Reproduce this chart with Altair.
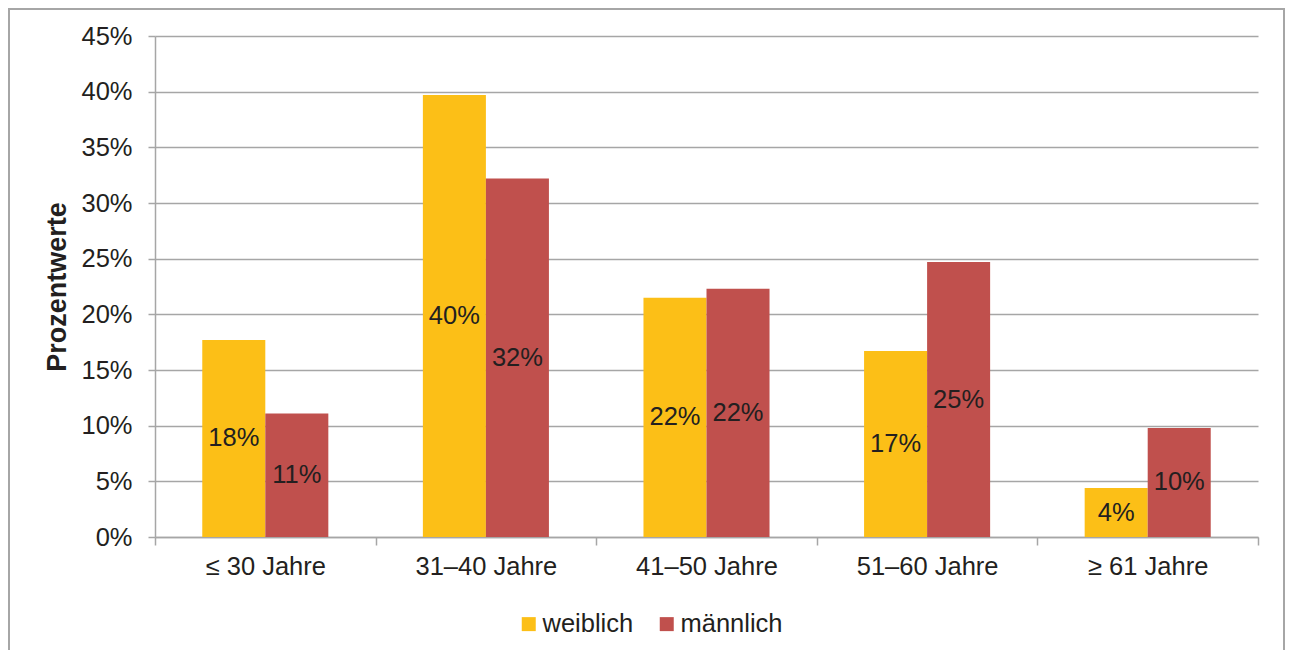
import altair as alt
import pandas as pd

categories = ["≤ 30 Jahre", "31–40 Jahre", "41–50 Jahre", "51–60 Jahre", "≥ 61 Jahre"]
groups = ["weiblich", "männlich"]
weiblich = [17.7, 39.7, 21.5, 16.7, 4.4]
maennlich = [11.1, 32.2, 22.3, 24.7, 9.8]
y_ticks = [0, 5, 10, 15, 20, 25, 30, 35, 40, 45]
colors = ["#FCBF17", "#C0504D"]

rows = []
for c, w, m in zip(categories, weiblich, maennlich):
    rows.append({"Altersgruppe": c, "Geschlecht": "weiblich", "Wert": w})
    rows.append({"Altersgruppe": c, "Geschlecht": "männlich", "Wert": m})
df = pd.DataFrame(rows)

FONT = "Liberation Sans"
TXT = "#231F20"
GRID = "#A6A6A6"
FS = 25.5

x_enc = alt.X(
    "Altersgruppe:N",
    sort=categories,
    scale=alt.Scale(paddingInner=0, paddingOuter=0),
    axis=alt.Axis(
        title=None, labelAngle=0, tickBand="extent", grid=False,
        domainColor=GRID, tickColor=GRID, tickSize=8, domainWidth=1.5, tickWidth=1.5,
        labelPadding=9, labelFontSize=FS, labelFont=FONT, labelColor=TXT,
    ),
)
xo_enc = alt.XOffset("Geschlecht:N", sort=groups,
                     scale=alt.Scale(paddingInner=0, paddingOuter=0.75))
y_axis = alt.Axis(
    values=y_ticks, labelExpr="datum.value + '%'", title="Prozentwerte",
    domainColor=GRID, tickColor=GRID, tickSize=7, domainWidth=1.5, tickWidth=1.5,
    gridColor=GRID, gridWidth=1.5,
    labelPadding=16, labelFontSize=FS, labelFont=FONT, labelColor=TXT,
    titleFont=FONT, titleFontSize=27, titleFontWeight="bold", titleColor=TXT,
    titlePadding=9,
)
y_scale = alt.Scale(domain=[0, 45], nice=False)

color_enc = alt.Color(
    "Geschlecht:N", sort=groups,
    scale=alt.Scale(domain=groups, range=colors),
    legend=alt.Legend(
        title=None, orient="none", legendX=361, legendY=575, direction="horizontal",
        symbolType="square", symbolSize=196, symbolStrokeWidth=0, symbolOpacity=1,
        labelFontSize=FS, labelFont=FONT, labelColor=TXT, columnPadding=20,
        labelOffset=1, padding=0,
    ),
)

bars = alt.Chart(df).mark_bar(opacity=1).encode(
    x=x_enc, xOffset=xo_enc,
    y=alt.Y("Wert:Q", scale=y_scale, axis=y_axis),
    color=color_enc,
)

labels = alt.Chart(df).transform_calculate(
    mid="datum.Wert / 2", lab="round(datum.Wert) + '%'"
).mark_text(font=FONT, fontSize=FS, color=TXT, baseline="middle", align="center").encode(
    x=x_enc, xOffset=xo_enc,
    y=alt.Y("mid:Q", scale=y_scale, axis=y_axis),
    text="lab:N",
)

frame = alt.Chart(pd.DataFrame({"k": [0]})).mark_rect(
    fillOpacity=0, stroke="#A6A6A6", strokeWidth=2
).encode(
    x=alt.value(-146), x2=alt.value(1129), y=alt.value(-27), y2=alt.value(700)
)

chart = alt.layer(frame, bars, labels).properties(
    width=1103, height=501,
    padding={"left": 147, "top": 28, "right": 27, "bottom": 113},
    autosize=alt.AutoSizeParams(type="none"),
    background="white",
).configure_view(strokeWidth=0)

chart.save("out.html", embed_options={"renderer": "svg", "actions": False})
